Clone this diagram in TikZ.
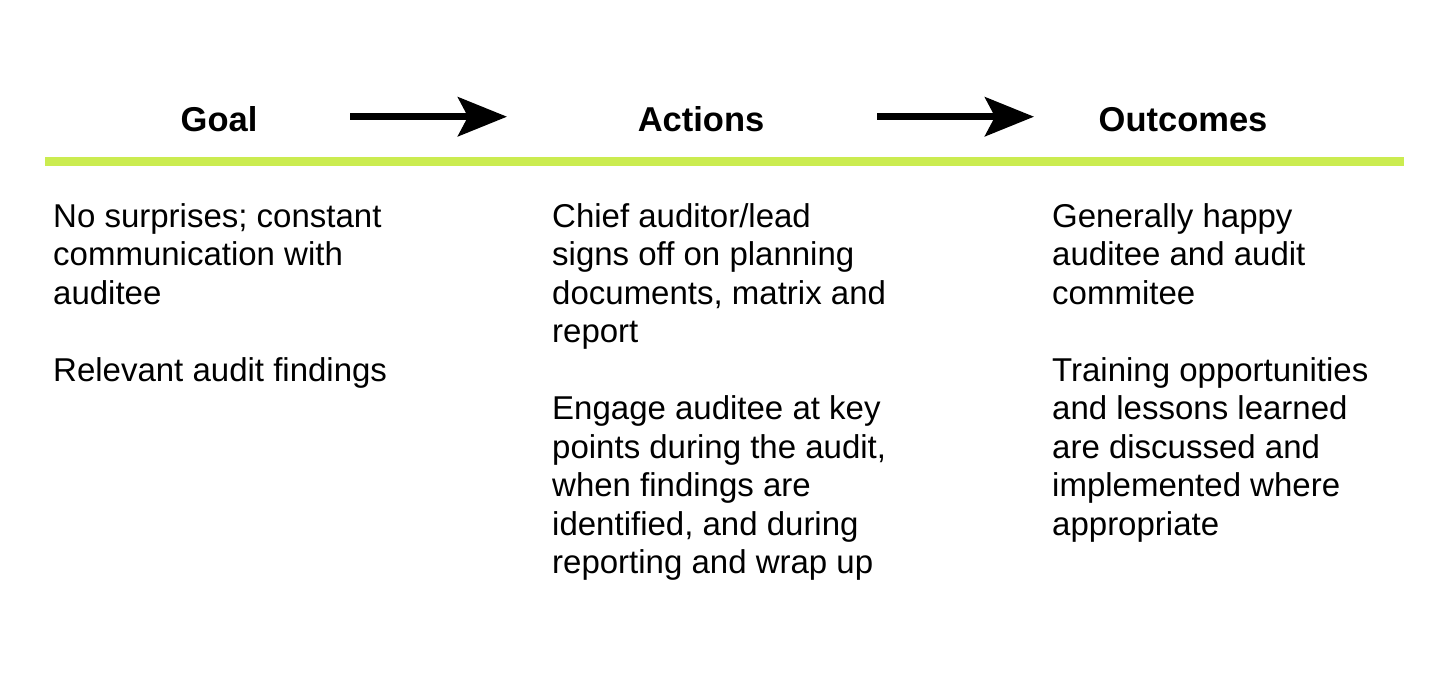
\documentclass[tikz,border=0pt]{standalone}
\usepackage{fontspec}
\setmainfont{Liberation Sans}
\usetikzlibrary{arrows.meta}
\definecolor{lime}{RGB}{203,236,80}
\tikzset{
  head/.style={anchor=base, inner sep=0pt, font=\fontsize{34.5}{40}\selectfont\bfseries},
  body/.style={anchor=base west, inner sep=0pt, align=left, font=\fontsize{33}{38.5}\selectfont},
  flow/.style={line width=7pt, -{Stealth[length=49pt, width=39pt, inset=10pt]}},
  rule/.style={line width=9pt, draw=lime}
}
\begin{document}
\begin{tikzpicture}[x=1pt,y=-1pt]
\useasboundingbox[fill=white] (0,0) rectangle (1440,681);
\node[head] (goal) at (219,131) {Goal};
\node[head] (actions) at (701,131) {Actions};
\node[head] (outcomes) at (1183,131) {Outcomes};
\coordinate (a1s) at (350,116.7);
\coordinate (a1e) at (507,116.7);
\coordinate (a2s) at (877,116.7);
\coordinate (a2e) at (1034,116.7);
\draw[flow] (a1s) -- (a1e);
\draw[flow] (a2s) -- (a2e);
\coordinate (rl) at (45,161.5);
\coordinate (rr) at (1404,161.5);
\draw[rule] (rl) -- (rr);
% nodes anchored at the baseline of their last line
\node[body] (g1) at (53,304) {No surprises; constant\\communication with\\auditee};
\node[body] (g2) at (53,381) {Relevant audit findings};
\node[body] (c1) at (552,342.5) {Chief auditor/lead\\signs off on planning\\documents, matrix and\\report};
\node[body] (c2) at (552,573.5) {Engage auditee at key\\points during the audit,\\when findings are\\identified, and during\\reporting and wrap up};
\node[body] (o1) at (1052,304) {Generally happy\\auditee and audit\\commitee};
\node[body] (o2) at (1052,535) {Training opportunities\\and lessons learned\\are discussed and\\implemented where\\appropriate};
\end{tikzpicture}
\end{document}
